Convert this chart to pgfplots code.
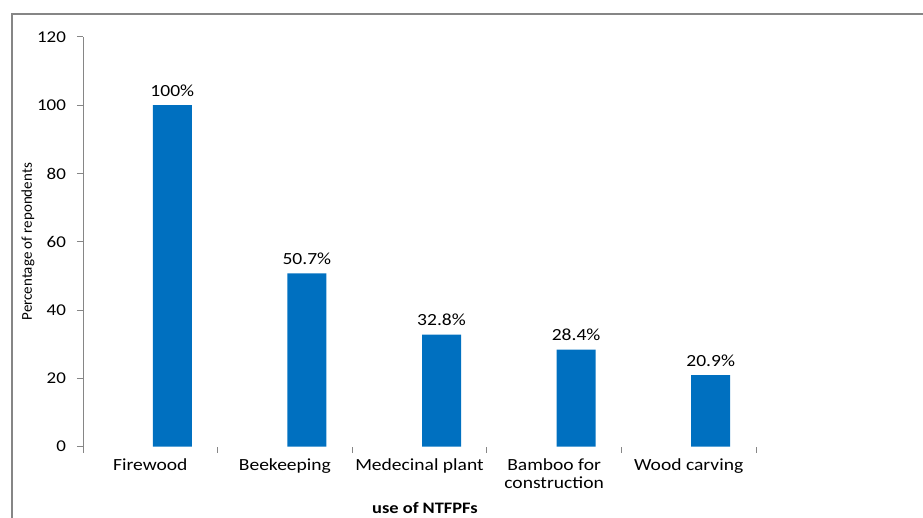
\documentclass[border=0pt]{standalone}
\usepackage{fontspec}
\setmainfont{Carlito}[FakeStretch=1.15]
\newfontfamily\ylabfont{Carlito}
\usepackage{pgfplots}
\pgfplotsset{compat=1.18}
\definecolor{barblue}{RGB}{0,112,192}
\definecolor{axgray}{RGB}{134,134,134}

\begin{document}
\begin{tikzpicture}
  \useasboundingbox (0,0) rectangle (923pt,517pt);
  % outer chart frame, cut off at right and bottom
  \draw[axgray, line width=1.3pt] (12pt,-20pt) |- (950pt,503pt);
  \begin{axis}[
    at={(83pt,70.5pt)}, anchor=south west,
    scale only axis, width=673pt, height=409.5pt,
    style={/pgf/number format/assume math mode=true},
    ybar, bar width=39pt, bar shift=22pt,
    xmin=-0.5, xmax=4.5, ymin=0, ymax=120,
    ytick={0,20,...,120},
    xtick={-0.5,0.5,...,4.5},
    x tick label as interval,
    xticklabels={Firewood, Beekeeping, Medecinal plant, Bamboo for\\construction, Wood carving},
    axis lines=left, axis line style={-},
    x axis line style={draw=none},
    y axis line style={axgray, line width=1pt},
    tick style={axgray, line width=1pt},
    tick align=outside, major tick length=6pt,
    yticklabel style={font=\fontsize{16.5}{19}\selectfont, xshift=-7.5pt},
    xticklabel style={font=\fontsize{17}{18}\selectfont, align=center, yshift=-3pt},
    ylabel={Percentage of repondents},
    ylabel style={at={(axis description cs:-0.0817,0.5)}, anchor=center,
      font=\ylabfont\fontsize{15}{18}\selectfont},
    xlabel={use of NTFPFs},
    xlabel style={at={(axis description cs:0.5,0)}, anchor=base,
      yshift=-67pt, xshift=5.5pt, font=\bfseries\fontsize{16}{19}\selectfont},
    nodes near coords, point meta=explicit symbolic,
    every node near coord/.append style={font=\fontsize{17}{19}\selectfont, yshift=5pt, black},
  ]
    \addplot[fill=barblue, draw=none] coordinates {
      (0,100) [100\%]
      (1,50.7) [50.7\%]
      (2,32.8) [32.8\%]
      (3,28.4) [28.4\%]
      (4,20.9) [20.9\%]
    };
  \end{axis}
\end{tikzpicture}
\end{document}
